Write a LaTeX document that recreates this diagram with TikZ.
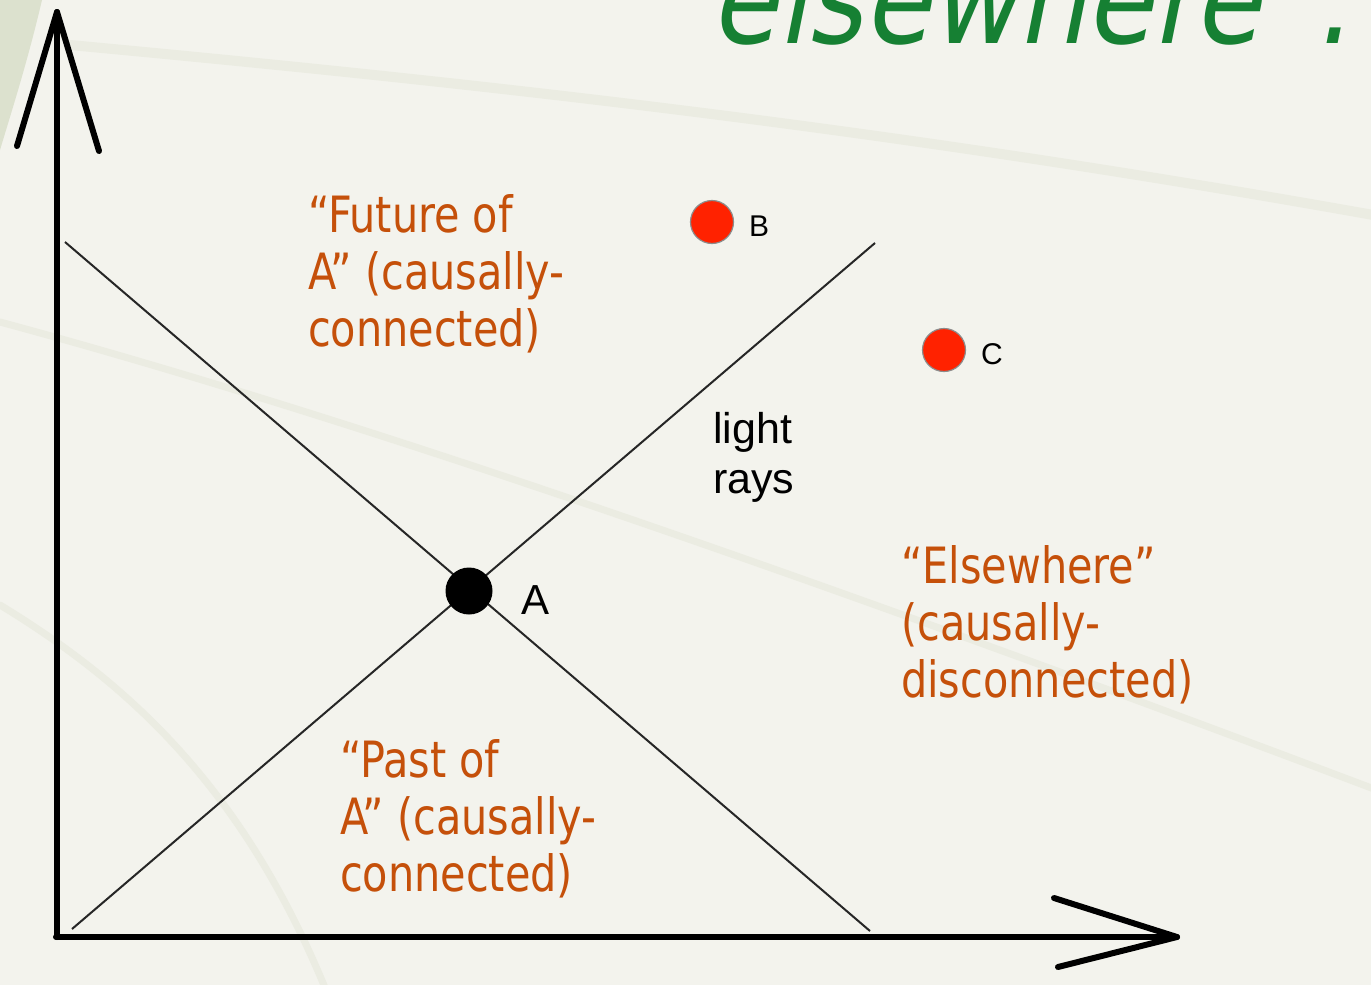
\documentclass[tikz,border=0pt]{standalone}
\usepackage{fontspec}
\setmainfont{Liberation Sans}
\newfontfamily\tah[FakeStretch=0.92]{DejaVu Sans Condensed}
\newfontfamily\tahit[FakeStretch=0.95,FakeSlant=0.2]{DejaVu Sans Condensed}
\definecolor{lab}{RGB}{197,80,10}
\definecolor{ttl}{RGB}{22,128,51}
\definecolor{bg}{RGB}{243,243,237}
\definecolor{streakc}{RGB}{235,236,226}
\definecolor{cornerc}{RGB}{220,225,206}
\definecolor{dotred}{RGB}{255,34,0}
\begin{document}
\begin{tikzpicture}[x=1pt,y=-1pt,
  region/.style={inner sep=0pt, anchor=base west, text=lab, font=\tah\fontsize{50}{58}\selectfont},
  arial/.style={inner sep=0pt, anchor=base west, text=black},
  axis/.style={line width=6pt, line cap=round, line join=round},
  ray/.style={line width=2pt, draw=black!85},
  event/.style={circle, inner sep=0pt, minimum size=#1},
  streak/.style={line width=10pt, draw=streakc, line cap=round}]
\useasboundingbox (0,0) rectangle (1371,985);
\fill[bg] (0,0) rectangle (1371,985);
\begin{scope}
\clip (0,0) rectangle (1371,985);
% faint background streaks
\draw[streak] (70,45) .. controls (500,85) and (900,130) .. (1390,218);
\draw[streak, line width=7pt] (0,322) .. controls (400,430) and (900,610) .. (1390,795);
\draw[streak, line width=7pt] (0,605) .. controls (140,690) and (250,800) .. (330,1000);
\fill[cornerc] (0,0) -- (42,0) .. controls (28,60) and (12,110) .. (0,150) -- cycle;
% title fragment
\node[inner sep=0pt, anchor=base east, text=ttl, font=\tahit\fontsize{126}{130}\selectfont] (title) at (1350,43) {elsewhere”.};
\end{scope}
% axes
\coordinate (O) at (56,937);
\coordinate (ytip) at (57,12);
\coordinate (yl) at (17,146);
\coordinate (yr) at (99,151);
\coordinate (xtip) at (1177,937);
\coordinate (xu) at (1054,898);
\coordinate (xd) at (1058,967);
\draw[axis] (ytip |- O) -- (ytip);
\draw[axis] (yl) -- (ytip) -- (yr);
\draw[axis] (O) -- (xtip);
\draw[axis] (xu) -- (xtip) -- (xd);
% light rays
\coordinate (r1s) at (65,242);
\coordinate (r1e) at (870,931);
\coordinate (r2s) at (72,929);
\coordinate (r2e) at (875,243);
\draw[ray] (r1s) -- (r1e);
\draw[ray] (r2s) -- (r2e);
% events
\node[event=47pt, fill=black] (A) at (469,591) {};
\node[event=43pt, fill=dotred, draw=black!45, line width=1.2pt] (B) at (712,222) {};
\node[event=43pt, fill=dotred, draw=black!45, line width=1.2pt] (C) at (944,350) {};
\node[arial, font=\fontsize{42}{48}\selectfont] (Alab) at (521,614) {A};
\node[arial, font=\fontsize{30}{34}\selectfont] (Blab) at (749,236) {B};
\node[arial, font=\fontsize{30}{34}\selectfont] (Clab) at (981,364) {C};
\node[arial, font=\fontsize{43}{48}\selectfont] (lr1) at (713,443) {light};
\node[arial, font=\fontsize{43}{48}\selectfont] (lr2) at (713,493) {rays};
% region labels
\node[region] (f1) at (308,232) {“Future of};
\node[region] (f2) at (308,289) {A” (causally-};
\node[region] (f3) at (308,346) {connected)};
\node[region] (p1) at (340,777) {“Past of};
\node[region] (p2) at (340,834) {A” (causally-};
\node[region] (p3) at (340,891) {connected)};
\node[region] (e1) at (901,583) {“Elsewhere”};
\node[region] (e2) at (901,640) {(causally-};
\node[region] (e3) at (901,697) {disconnected)};
\end{tikzpicture}
\end{document}
